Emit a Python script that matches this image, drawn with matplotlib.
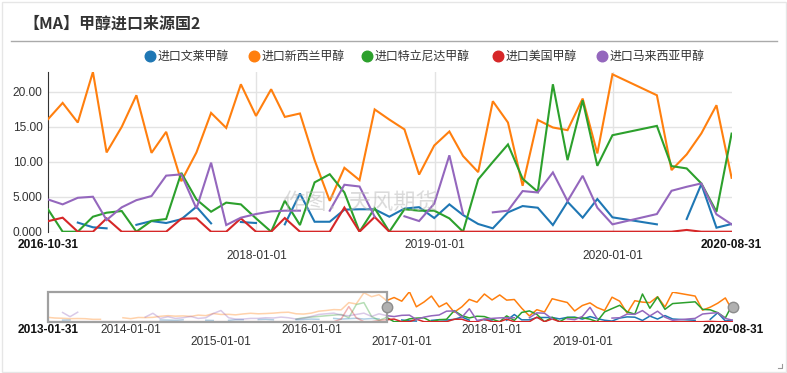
import numpy as np
import pandas as pd
import matplotlib
matplotlib.use("Agg")
import matplotlib.pyplot as plt
from matplotlib.patches import Rectangle
from matplotlib.ticker import FuncFormatter

W, H = 787, 373
nan = np.nan

CJK = ["Noto Sans CJK SC", "DejaVu Sans"]
NUM = ["Liberation Sans", "DejaVu Sans"]

# month-end dates shown in the main window; 2020-01 and 2020-02 are absent in the source
dates = pd.date_range("2016-10-01", "2020-08-01", freq="MS") + pd.offsets.MonthEnd(0)
dates = dates.drop(pd.to_datetime(["2020-01-31", "2020-02-29"]))

# earlier history, only visible in the navigator strip
hist_dates = pd.date_range("2013-01-01", "2016-09-01", freq="MS") + pd.offsets.MonthEnd(0)

names = ["进口文莱甲醇", "进口新西兰甲醇", "进口特立尼达甲醇", "进口美国甲醇", "进口马来西亚甲醇"]
colors = ["#1f77b4", "#ff7f0e", "#2ca02c", "#d62728", "#9467bd"]

brunei = [nan, nan, 1.3, 0.63, 0.48, nan, 0.98, 1.52, 1.24, 1.78, 3.56, 1.19,
          nan, 1.38, 1.24, nan, 1.05, 5.45, 1.42, 1.42, 3.15, 3.2, 3.2, 2.14,
          3.3, 3.5, 1.95, 3.9, 2.38, 1.1, 0.48, 2.76, 3.66, 3.42, 0.95, 4.27,
          2.0, 4.66, 2.05, 1.05, nan, 1.81, 6.79, 0.57, 1.1]
new_zealand = [16.05, 18.38, 15.58, 22.79, 11.31, 14.96, 19.47, 11.25, 14.25, 7.2,
               11.31, 16.95, 14.81, 21.04, 16.52, 20.33, 16.38, 16.87, 10.21, 4.4,
               9.12, 7.36, 17.45, 16.0, 14.6, 8.15, 12.3, 14.3, 10.8, 8.5,
               18.62, 15.58, 6.55, 15.95, 14.87, 14.49, 19.0, 11.17, 22.46, 19.47,
               8.79, 11.03, 14.02, 18.05, 7.69]
trinidad = [3.2, 0, 0, 2.14, 2.71, 2.95, 0, 1.55, 1.81, 8.4, 4.6, 2.85, 4.15, 3.9,
            1.9, 0, 4.42, 0.95, 7.04, 8.2, 5.6, 0, 3.35, 0, 3.2, 3.0, 3.0, 1.9, 0,
            7.46, 9.95, 12.45, 7.55, 5.7, 21.04, 10.21, 18.76, 9.4, 13.77, 15.1,
            9.36, 9.03, 6.89, 2.85, 14.0]
usa = [1.5, 2.0, 0, 0, 1.9, 0, 0, 0, 0, 1.85, 1.9, 0, 0, 1.9, 0, 0, 1.95, 0, 0, 0,
       3.45, 0, 2.1, 0, 0, 0, 0, 0, 0, 0, 0, 0, 0, 0, 0, 0, 0, 0, 0, 0, 0, 0.25,
       0, 0, 0]
malaysia = [4.6, 3.9, 4.84, 4.99, 1.67, 3.48, 4.5, 5.09, 8.0, 8.18, 3.3, 9.85, 0.95,
            2.0, 2.52, 2.9, 3.0, 3.0, nan, 3.0, 6.7, 6.45, 2.14, nan, 2.2, 1.52,
            4.0, 10.9, 2.55, nan, 2.76, 3.0, 5.8, 5.6, 8.46, 4.37, 7.98, 3.42,
            1.05, 2.52, 5.84, 6.41, 6.89, 2.48, 1.05]

brunei_hist = [nan, nan, 1.2, 1.3, nan, nan, nan, nan, nan, nan, nan, nan, nan, nan,
               nan, 1.3, 1.2, 1.0, 1.4, nan, nan, 1.1, 0.9, nan, 1.0, 1.5, 1.5, nan,
               1.6, 1.8, 1.4, nan, nan, 1.5, 1.7, 2.0, 1.8, nan, 2.5, 2.0, 2.3, 2.6,
               2.0, 2.4, 2.2]
new_zealand_hist = [3.3, 2.8, 2.6, 2.3, 2.4, 2.3, 1.8, 1.8, nan, nan, 3.0, 2.3, 3.2,
                    3.1, 3.3, 4.1, 4.6, 4.2, 4.4, 4.0, 5.0, 4.6, 6.2, 5.5, 5.6, 5.2,
                    5.9, 6.4, 6.0, 6.2, 6.5, 7.0, 7.2, 6.0, 5.8, 6.5, 8.0, 8.5, 9.2,
                    9.0, 14.5, 13.5, 22.0, 19.0, 20.5]
trinidad_hist = [nan] * 33 + [2.0, 3.0, 3.5, 4.0, 4.5, 5.0, 5.5, 3.0, 13.0, 14.5,
                              4.0, 1.0]
usa_hist = [0] * 39 + [2.0, 11.5, 3.0, 0, 0, 1.0]
malaysia_hist = [nan, nan, 7.0, 3.8, 7.2, nan, nan, nan, nan, nan, nan, nan, nan,
                 3.5, 6.4, 2.5, 3.8, 2.5, 3.0, 4.0, 2.5, 3.0, 6.2, 8.5, 3.0, 2.0,
                 2.0, 2.5, 2.5, 3.0, 2.8, 3.5, 3.0, 2.0, 2.5, 4.0, 5.5, 6.0, 6.5,
                 5.0, 4.5, 5.5, 6.5, 4.0, 6.0]

series = [brunei, new_zealand, trinidad, usa, malaysia]
series_hist = [brunei_hist, new_zealand_hist, trinidad_hist, usa_hist, malaysia_hist]

main_ticks = pd.to_datetime(["2016-10-31", "2018-01-01", "2019-01-01",
                             "2020-01-01", "2020-08-31"])
nav_ticks = pd.to_datetime(["2013-01-31", "2014-01-01", "2015-01-01", "2016-01-01",
                            "2017-01-01", "2018-01-01", "2019-01-01", "2020-08-31"])
nav_rows = [0, 0, 1, 0, 1, 0, 1, 0]
main_rows = [0, 1, 0, 1, 0]

fig = plt.figure(figsize=(W / 100, H / 100), dpi=100)


def px_axes(l, t, r, b):
    return fig.add_axes([l / W, 1 - b / H, (r - l) / W, (b - t) / H])


# background layer in pixel coordinates: frame, title, rule, legend
bg = fig.add_axes([0, 0, 1, 1])
bg.set_xlim(0, W)
bg.set_ylim(H, 0)
bg.axis("off")
bg.add_patch(Rectangle((1.5, 1.5), W - 3, H - 3, fill=False, ec="#e6e6e6", lw=1))
bg.plot([778, 782, 782], [368, 368, 364], color="#999999", lw=0.8)
bg.text(23, 24, "【MA】甲醇进口来源国2", family=CJK, fontsize=11.5,
        fontweight="bold", color="#333333", va="center", ha="left")
bg.plot([11, 777], [41, 41], color="#aaaaaa", lw=1)
legend_x = [150, 254, 367, 498, 602]
for x, name, c in zip(legend_x, names, colors):
    bg.scatter([x], [56], s=58, color=c, zorder=3)
    bg.text(x + 8, 56.5, name, family=CJK, fontsize=8.6, color="#333333",
            va="center", ha="left")

# main chart
ax = px_axes(48, 72, 731.6, 231.7)
ymax = np.nanmax(np.array(series, dtype=float))
for vals, c in zip(series, colors):
    ax.plot(dates, vals, color=c, lw=1.5, solid_joinstyle="miter", zorder=3)
ax.set_xlim(dates[0], dates[-1])
ax.set_ylim(0, ymax)
ax.set_yticks([0, 5, 10, 15, 20])
ax.yaxis.set_major_formatter(FuncFormatter(lambda v, p: f"{v:#.4g}"))
ax.tick_params(axis="y", length=0, pad=4, labelsize=8.6, labelcolor="#333333")
for lab in ax.get_yticklabels():
    lab.set_family(NUM)
ax.set_xticks([])
ax.grid(axis="y", color="#e3e3e3", lw=1)
for d in main_ticks[1:-1]:
    ax.axvline(d, color="#e3e3e3", lw=1, zorder=0)
ax.set_axisbelow(True)
for s in ["top", "right", "bottom"]:
    ax.spines[s].set_visible(False)
ax.spines["left"].set_color("#333333")
for i, (d, row) in enumerate(zip(main_ticks, main_rows)):
    end = i in (0, len(main_ticks) - 1)
    ax.annotate(d.strftime("%Y-%m-%d"), (d, 0), xycoords=("data", "axes fraction"),
                xytext=(0, -9.6 - 8.0 * row), textcoords="offset points",
                ha="center", va="center", family=NUM, fontsize=8.6,
                fontweight="bold" if end else "normal",
                color="#111111" if end else "#333333", annotation_clip=False)

fig.text(360 / W, 1 - 203 / H, "作图：天风期货", family=CJK, fontsize=16,
         color="#b8b8b8", alpha=0.5, ha="center", va="center", zorder=10)

# navigator strip with the full history
nav = px_axes(48, 291.7, 733, 321.7)
for hv, vals, c in zip(series_hist, series, colors):
    hx = list(hist_dates) + [dates[0]]
    hy = list(hv) + [vals[0]]
    nav.plot(hx, hy, color=c, lw=1.1, alpha=0.35)
    nav.plot(dates, vals, color=c, lw=1.1)
nav.set_xlim(hist_dates[0], dates[-1])
nav.set_ylim(0, ymax)
nav.set_xticks([])
nav.set_yticks([])
for s in nav.spines.values():
    s.set_visible(False)
x0 = nav.get_xlim()[0]
nav.add_patch(Rectangle((x0, 0), matplotlib.dates.date2num(dates[0]) - x0, ymax,
                        fill=False, ec="#a0a0a0", lw=1.6, clip_on=False, zorder=5))
nav.plot([dates[0], dates[-1]], [ymax / 2, ymax / 2], ls="none", marker="o",
         ms=7.5, mfc="#b0b0b0", mec="#8c8c8c", mew=1, clip_on=False, zorder=6)
for i, (d, row) in enumerate(zip(nav_ticks, nav_rows)):
    end = i in (0, len(nav_ticks) - 1)
    nav.annotate(d.strftime("%Y-%m-%d"), (d, 0), xycoords=("data", "axes fraction"),
                 xytext=(0, -6.0 - 8.4 * row), textcoords="offset points",
                 ha="center", va="center", family=NUM, fontsize=8.6,
                 fontweight="bold" if end else "normal",
                 color="#111111" if end else "#333333", annotation_clip=False)

fig.savefig("out.png", dpi=100)
